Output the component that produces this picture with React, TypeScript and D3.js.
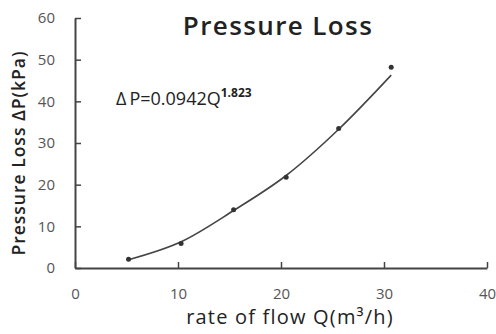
import React, { useRef, useEffect } from 'react';
import * as d3 from 'd3';

// measured points
const flowQ = [5.2, 10.3, 15.4, 20.5, 25.6, 30.7];
const lossP = [2.1, 5.9, 14.0, 21.8, 33.5, 48.2];

// trend line as drawn
const trendQ = [5.2, 10.3, 15.4, 20.5, 25.6, 30.7];
const trendP = [2.0, 6.3, 13.8, 22.2, 33.3, 46.3];

const xTicks = [0, 10, 20, 30, 40];
const yTicks = [0, 10, 20, 30, 40, 50, 60];

const PressureLoss: React.FC = () => {
  const svgRef = useRef<SVGSVGElement | null>(null);

  useEffect(() => {
    const svg = d3.select(svgRef.current);
    svg.selectAll('*').remove();
    const width = 496;
    const height = 334;
    const font = "'Open Sans', sans-serif";

    svg.attr('width', width).attr('height', height).style('background', '#fff');

    const x = d3.scaleLinear().domain([0, 40]).range([75, 487]);
    const y = d3.scaleLinear().domain([0, 60]).range([268, 18]);

    // x axis, ticks pointing up
    const gx = svg.append('g')
      .attr('transform', `translate(0,${y(0)})`)
      .call(d3.axisBottom(x).tickValues(xTicks).tickSizeInner(-6).tickSizeOuter(0).tickPadding(20));
    gx.select('.domain').attr('stroke', '#444').attr('stroke-width', 2);
    gx.selectAll('.tick line').attr('stroke', '#444').attr('stroke-width', 1.5);
    gx.selectAll('.tick text')
      .style('font-family', font).style('font-size', '15px').attr('fill', '#555');

    // y axis, ticks pointing right
    const gy = svg.append('g')
      .attr('transform', `translate(${x(0)},0)`)
      .call(d3.axisLeft(y).tickValues(yTicks).tickSizeInner(-6).tickSizeOuter(0).tickPadding(20));
    gy.select('.domain').attr('stroke', '#444').attr('stroke-width', 2);
    gy.selectAll('.tick line').attr('stroke', '#444').attr('stroke-width', 1.5);
    gy.selectAll('.tick text')
      .style('font-family', font).style('font-size', '15px').attr('fill', '#555');

    // trend line
    const trend = trendQ.map((q, i) => [q, trendP[i]] as [number, number]);
    const line = d3.line<[number, number]>()
      .x(d => x(d[0]))
      .y(d => y(d[1]))
      .curve(d3.curveMonotoneX);
    svg.append('path')
      .datum(trend)
      .attr('d', line)
      .attr('fill', 'none')
      .attr('stroke', '#444')
      .attr('stroke-width', 1.6);

    // measured points
    svg.append('g')
      .selectAll('circle')
      .data(flowQ)
      .enter()
      .append('circle')
      .attr('cx', d => x(d))
      .attr('cy', (d, i) => y(lossP[i]))
      .attr('r', 2.5)
      .attr('fill', '#333');

    // title
    svg.append('text')
      .attr('x', 278)
      .attr('y', 35)
      .attr('text-anchor', 'middle')
      .style('font-family', font)
      .style('font-size', '26px')
      .style('font-weight', 600)
      .style('letter-spacing', '1.4px')
      .attr('fill', '#222')
      .text('Pressure Loss');

    // equation
    const eq = svg.append('text')
      .attr('x', 116)
      .attr('y', 105)
      .style('font-family', font)
      .style('font-size', '18px')
      .attr('fill', '#222');
    eq.append('tspan').text('\u0394\u2009P=0.0942Q');
    eq.append('tspan')
      .attr('dy', -8)
      .style('font-size', '12px')
      .style('font-weight', 700)
      .text('1.823');

    // x label
    svg.append('text')
      .attr('x', 290)
      .attr('y', 324)
      .attr('text-anchor', 'middle')
      .style('font-family', font)
      .style('font-size', '20px')
      .style('font-weight', 500)
      .style('letter-spacing', '1.2px')
      .attr('fill', '#222')
      .text('rate of flow Q(m\u00b3/h)');

    // y label
    svg.append('text')
      .attr('transform', 'translate(25,153) rotate(-90)')
      .attr('text-anchor', 'middle')
      .style('font-family', font)
      .style('font-size', '17.5px')
      .style('font-weight', 600)
      .style('letter-spacing', '1px')
      .attr('fill', '#222')
      .text('Pressure Loss \u0394P(kPa)');
  }, []);

  return <svg ref={svgRef} style={{ position: 'absolute', left: 0, top: 0 }}></svg>;
};

export default function App() {
  return <PressureLoss />;
}
